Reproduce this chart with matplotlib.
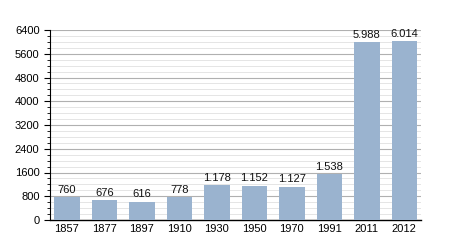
import matplotlib
matplotlib.use("Agg")
import matplotlib.pyplot as plt
from matplotlib.ticker import MultipleLocator

plt.rcParams['font.family'] = ['Liberation Sans', 'DejaVu Sans']

years = ["1857", "1877", "1897", "1910", "1930", "1950", "1970", "1991", "2011", "2012"]
population = [760, 676, 616, 778, 1178, 1152, 1127, 1538, 5988, 6014]
labels = ["760", "676", "616", "778", "1.178", "1.152", "1.127", "1.538", "5.988", "6.014"]

fig = plt.figure(figsize=(4.5, 2.5), dpi=100)
ax = fig.add_axes([0.111, 0.12, 0.825, 0.76])

x = range(len(years))
bars = ax.bar(x, population, width=0.68, color="#9ab3cf", zorder=3)
for b, lab in zip(bars, labels):
    ax.text(b.get_x() + b.get_width() / 2, b.get_height() + 80, lab,
            ha="center", va="bottom", fontsize=8, color="#111111")

ax.set_xlim(-0.45, 9.45)
ax.set_ylim(0, 6400)
ax.set_xticks(list(x))
ax.set_xticklabels(years, fontsize=8)
ax.yaxis.set_major_locator(MultipleLocator(800))
ax.yaxis.set_minor_locator(MultipleLocator(200))
ax.tick_params(axis="y", labelsize=8, length=4, width=0.8, direction="out")
ax.tick_params(axis="y", which="minor", length=2, width=0.6)
ax.tick_params(axis="x", length=0, pad=3)
ax.grid(axis="y", which="major", color="#b0b0b0", linewidth=0.8, zorder=0)
ax.grid(axis="y", which="minor", color="#e0e0e0", linewidth=0.6, zorder=0)
for s in ["top", "right"]:
    ax.spines[s].set_visible(False)
ax.spines["left"].set_linewidth(0.8)
ax.spines["bottom"].set_linewidth(1.0)

fig.savefig("out.png")
